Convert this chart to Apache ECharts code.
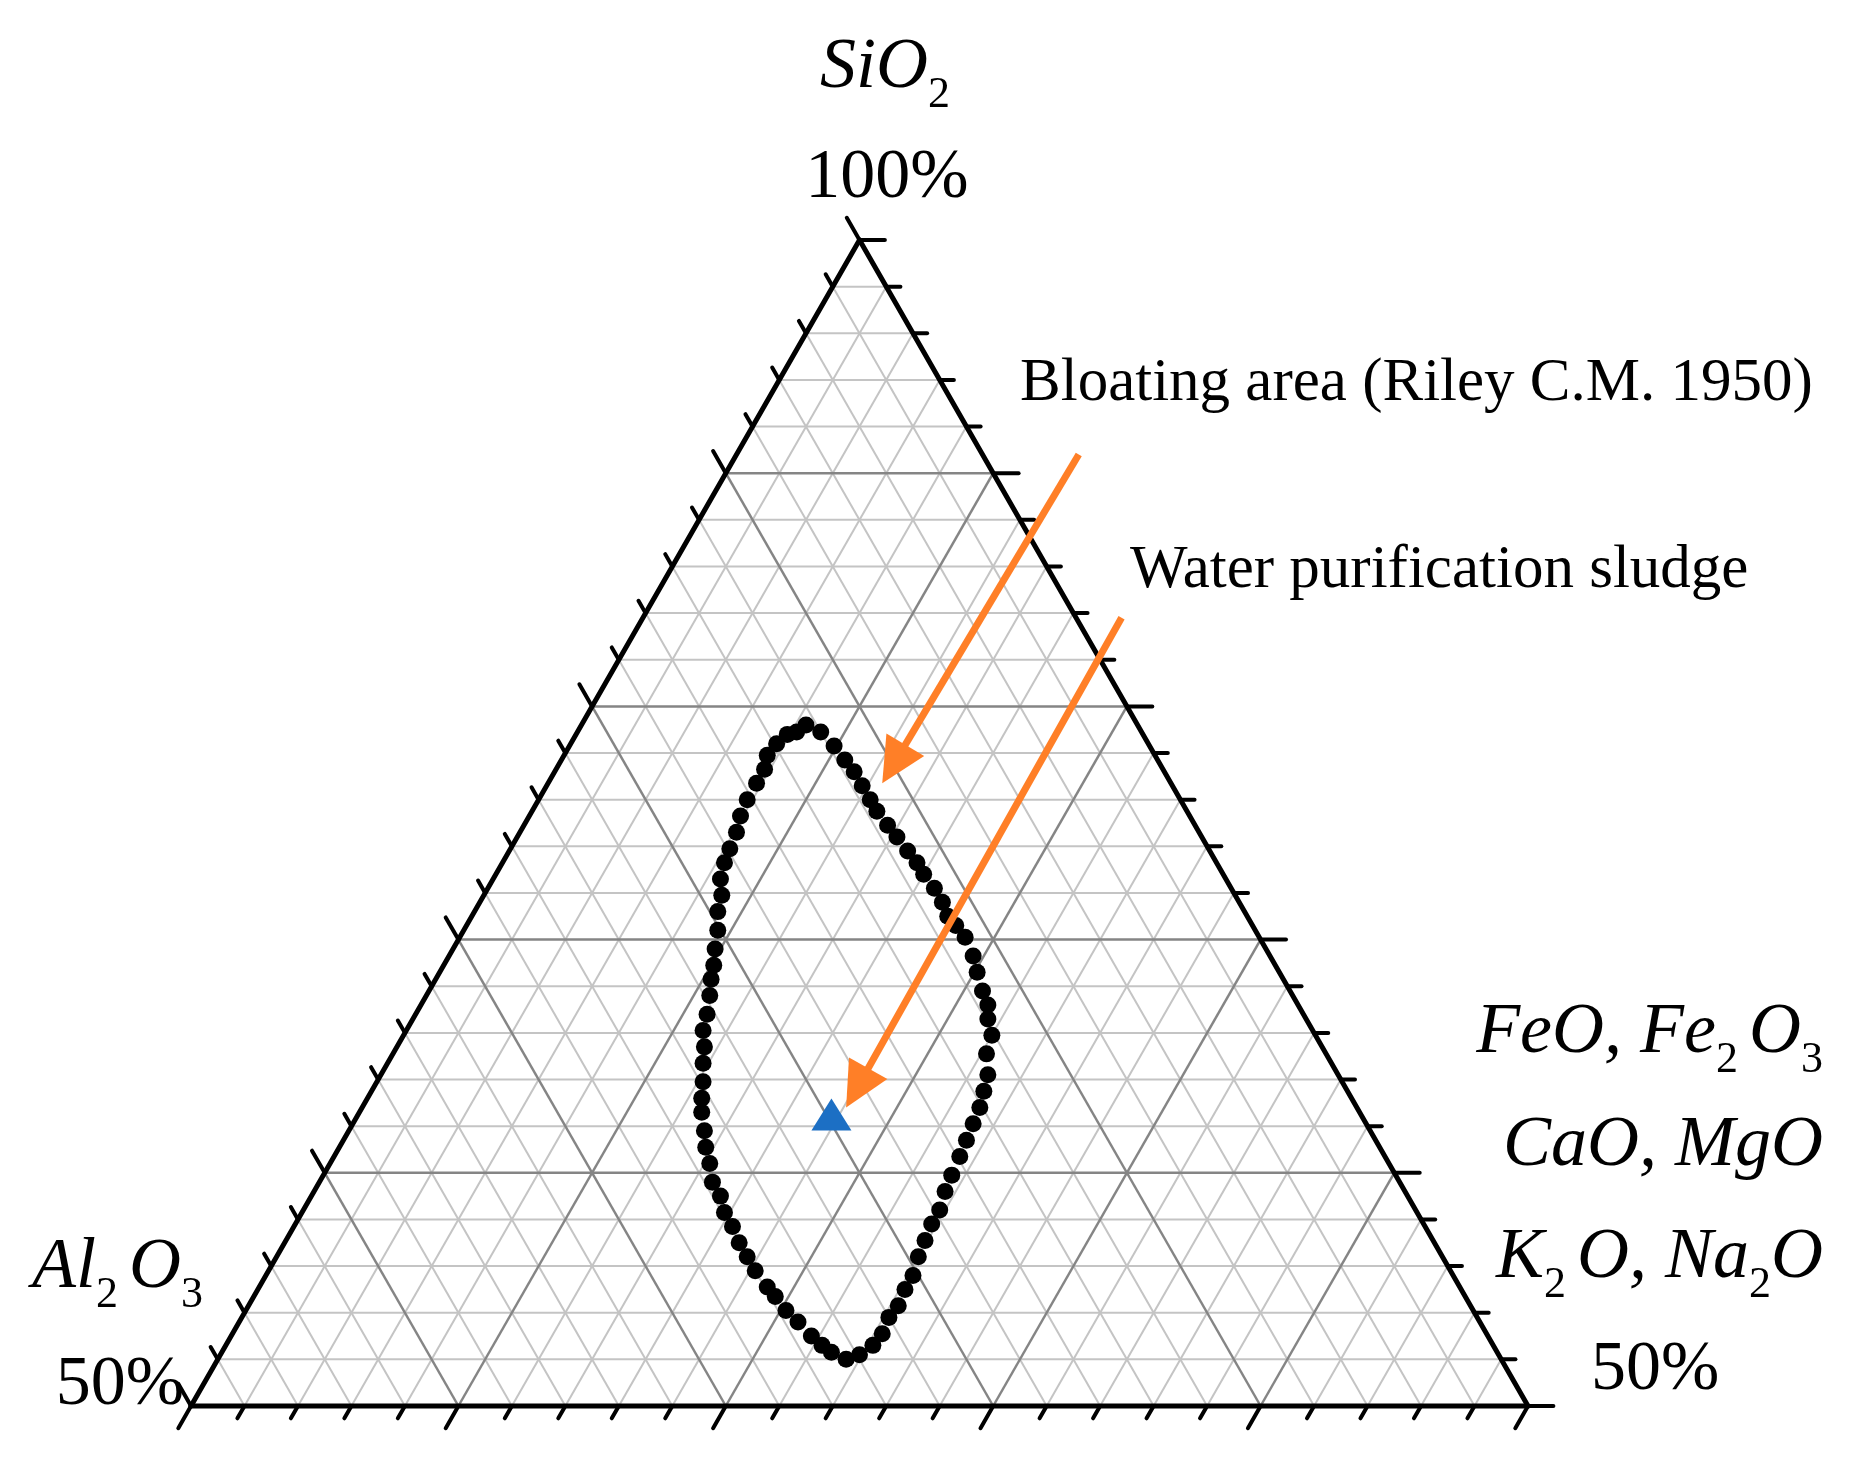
<!DOCTYPE html>
<html>
<head>
<meta charset="utf-8">
<title>SiO2 - Al2O3 - fluxes</title>
<script src="https://cdn.jsdelivr.net/npm/echarts@6/dist/echarts.min.js"></script>
<style>
    html, body { margin: 0; padding: 0; background: #fff; }
    #chart { width: 1855px; height: 1484px; }
</style>
</head>
<body>
<div id="chart"></div>
<script>
// grid levels in % (Al2O3, FeO... from 0 to 50, SiO2 = 50 + level)
const levels = [0, 2, 4, 6, 8, 10, 12, 14, 16, 18, 20, 22, 24, 26, 28, 30, 32, 34, 36, 38, 40, 42, 44, 46, 48, 50]
const majorStep = 10

// bloating area outline (Riley C.M. 1950), FeO+... = 100 - SiO2 - Al2O3
const bloatSiO2 = [78.9, 79.2, 78.9, 78.8, 78.4, 77.9, 77.3, 76.7, 76.0, 75.3,
    74.6, 73.9, 73.3, 72.6, 71.9, 71.2, 70.4, 69.6, 68.9, 68.3,
    67.6, 66.8, 66.1, 65.4, 64.7, 63.9, 63.2, 62.6, 61.8, 61.1,
    60.4, 59.6, 59.0, 58.3, 57.7, 57.0, 56.4, 55.8, 55.1, 54.7,
    54.1, 53.6, 53.0, 52.6, 52.3, 52.0, 52.2, 52.6, 53.1, 53.8,
    54.3, 55.0, 55.6, 56.4, 57.1, 57.8, 58.4, 59.2, 59.9, 60.7,
    61.4, 62.1, 62.8, 63.5, 64.2, 65.1, 65.9, 66.6, 67.2, 67.8,
    68.6, 69.3, 70.1, 70.6, 71.0, 71.6, 72.2, 72.8, 73.3, 73.8,
    74.4, 74.9, 75.5, 76.0, 76.6, 77.2, 77.7, 78.3]
const bloatAl2O3 = [12.0, 12.4, 12.9, 13.3, 13.9, 14.5, 14.9, 15.5, 16.2, 16.8,
    17.3, 17.9, 18.4, 18.9, 19.2, 19.7, 20.1, 20.6, 21.0, 21.4,
    21.8, 22.3, 22.8, 23.1, 23.5, 23.9, 24.3, 24.6, 24.9, 25.2,
    25.4, 25.7, 25.7, 25.9, 25.9, 26.0, 26.0, 26.0, 25.9, 25.8,
    25.7, 25.5, 25.3, 25.1, 24.9, 24.5, 23.9, 23.2, 22.6, 22.0,
    21.4, 20.8, 20.2, 19.6, 19.0, 18.4, 17.8, 17.2, 16.6, 15.9,
    15.3, 14.7, 14.1, 13.6, 13.1, 12.7, 12.1, 11.9, 11.6, 11.5,
    11.3, 11.1, 11.0, 11.1, 11.2, 11.1, 11.1, 11.2, 11.2, 11.3,
    11.4, 11.5, 11.6, 11.6, 11.6, 11.6, 11.7, 11.8]

// water purification sludge
const sludgeSiO2 = [62.5]
const sludgeAl2O3 = [19.8]

// arrows (tail -> tip)
const arrowFromSiO2 = [90.8, 83.8]
const arrowFromAl2O3 = [-3.6, -1.7]
const arrowToSiO2 = [76.7, 62.8]
const arrowToAl2O3 = [10.8, 19.1]

const H = Math.sqrt(3) / 2
const orange = '#ff7f27'
const serif = '"Liberation Serif", "Times New Roman", serif'

// ternary (SiO2, Al2O3) -> cartesian, bottom-left corner = (0, 0)
function tern(s, a) {
    const f = 100 - s - a
    return [f + (s - 50) / 2, (s - 50) * H]
}

let minorSeg = []
let majorSeg = []
let tickSeg = []
levels.forEach(L => {
    const major = L % majorStep === 0
    if (L > 0 && L < 50) {
        const bucket = major ? majorSeg : minorSeg
        bucket.push([...tern(50 + L, 50 - L), ...tern(50 + L, 0)])   // SiO2 = 50 + L
        bucket.push([...tern(100 - L, L), ...tern(50, L)])           // Al2O3 = L
        bucket.push([...tern(100 - L, 0), ...tern(50, 50 - L)])      // FeO = L
    }
    const t = major ? 0.95 : 0.53
    let p = tern(50 + L, 0)
    tickSeg.push([p[0], p[1], p[0] + t, p[1]])
    p = tern(100 - L, L)
    tickSeg.push([p[0], p[1], p[0] - 0.5 * t, p[1] + H * t])
    p = tern(50, 50 - L)
    tickSeg.push([p[0], p[1], p[0] - 0.5 * t, p[1] - H * t])
})
const edgeSeg = [
    [...tern(100, 0), ...tern(50, 50)],
    [...tern(100, 0), ...tern(50, 0)],
    [...tern(50, 50), ...tern(50, 0)]
]

function segSeries(data, color, width, z, cap) {
    return {
        type: 'custom',
        data: data,
        z: z,
        silent: true,
        renderItem: function (params, api) {
            const p1 = api.coord([api.value(0), api.value(1)])
            const p2 = api.coord([api.value(2), api.value(3)])
            return {
                type: 'line',
                shape: { x1: p1[0], y1: p1[1], x2: p2[0], y2: p2[1] },
                style: { stroke: color, lineWidth: width, lineCap: cap || 'butt' }
            }
        }
    }
}

// formulas: italic main text, upright subscripts dropped below the baseline
const measureCtx = document.createElement('canvas').getContext('2d')
function formula(parts, x, baseline, align) {
    const items = parts.map(([t, sub]) => {
        const size = sub ? 44 : 72
        const font = (sub ? '' : 'italic ') + size + 'px ' + serif
        measureCtx.font = font
        return { t: t, sub: sub, size: size, font: font, w: measureCtx.measureText(t).width }
    })
    const total = items.reduce((acc, it) => acc + it.w, 0)
    let cx = align === 'right' ? x - total : (align === 'center' ? x - total / 2 : x)
    return items.map(it => {
        const bl = it.sub ? baseline + 18 : baseline
        const el = {
            type: 'text', x: cx, y: bl - 0.3375 * it.size, z: 10,
            style: { text: it.t, font: it.font, fill: '#000', align: 'left', verticalAlign: 'middle' }
        }
        cx += it.w
        return el
    })
}
function plain(text, x, baseline, size, align) {
    return {
        type: 'text', x: x, y: baseline - 0.3375 * size, z: 10,
        style: {
            text: text, fontFamily: serif, fontSize: size, fill: '#000',
            align: align, verticalAlign: 'middle'
        }
    }
}

let myChart = echarts.init(document.getElementById('chart'))
myChart.setOption({
    animation: false,
    backgroundColor: '#fff',
    grid: { left: 191, top: 240, width: 1337, height: 1166 },
    xAxis: { type: 'value', min: 0, max: 50, show: false },
    yAxis: { type: 'value', min: 0, max: 50 * H, show: false },
    series: [
        segSeries(minorSeg, '#c4c4c4', 2, 1),
        segSeries(majorSeg, '#858585', 2.5, 2),
        segSeries(tickSeg, '#000', 4, 3, 'round'),
        segSeries(edgeSeg, '#000', 5, 3, 'round'),
        {
            name: 'Bloating area',
            type: 'scatter',
            z: 4,
            symbol: 'circle',
            symbolSize: 17,
            itemStyle: { color: '#000', opacity: 1 },
            data: bloatSiO2.map((s, i) => tern(s, bloatAl2O3[i]))
        },
        {
            name: 'Water purification sludge',
            type: 'scatter',
            z: 5,
            symbol: 'triangle',
            symbolSize: [40, 32],
            itemStyle: { color: '#1c6fc4', opacity: 1 },
            data: sludgeSiO2.map((s, i) => tern(s, sludgeAl2O3[i]))
        },
        {
            type: 'custom',
            z: 6,
            silent: true,
            data: arrowFromSiO2.map((s, i) => [
                ...tern(s, arrowFromAl2O3[i]),
                ...tern(arrowToSiO2[i], arrowToAl2O3[i])
            ]),
            renderItem: function (params, api) {
                const p0 = api.coord([api.value(0), api.value(1)])
                const p1 = api.coord([api.value(2), api.value(3)])
                const dx = p1[0] - p0[0], dy = p1[1] - p0[1]
                const len = Math.hypot(dx, dy)
                const ux = dx / len, uy = dy / len
                const hl = 45, hw = 22
                const bx = p1[0] - ux * hl, by = p1[1] - uy * hl
                return {
                    type: 'group',
                    children: [
                        {
                            type: 'line',
                            shape: { x1: p0[0], y1: p0[1], x2: bx + ux * 4, y2: by + uy * 4 },
                            style: { stroke: orange, lineWidth: 7 }
                        },
                        {
                            type: 'polygon',
                            shape: { points: [[p1[0], p1[1]], [bx - uy * hw, by + ux * hw], [bx + uy * hw, by - ux * hw]] },
                            style: { fill: orange }
                        }
                    ]
                }
            }
        }
    ],
    graphic: [].concat(
        formula([['SiO'], ['2', true]], 885, 92, 'center'),
        [plain('100%', 887, 202, 70, 'center')],
        formula([['Al'], ['2 ', true], ['O'], ['3', true]], 32, 1292, 'left'),
        [plain('50%', 184, 1409, 70, 'right')],
        formula([['FeO, Fe'], ['2 ', true], ['O'], ['3', true]], 1823, 1057, 'right'),
        formula([['CaO, MgO']], 1823, 1170, 'right'),
        formula([['K'], ['2 ', true], ['O, Na'], ['2', true], ['O']], 1823, 1282, 'right'),
        [plain('50%', 1591, 1394, 70, 'left')],
        [plain('Bloating area (Riley C.M. 1950)', 1020, 405, 61, 'left')],
        [plain('Water purification sludge', 1130, 592, 61, 'left')]
    )
})
</script>
</body>
</html>
